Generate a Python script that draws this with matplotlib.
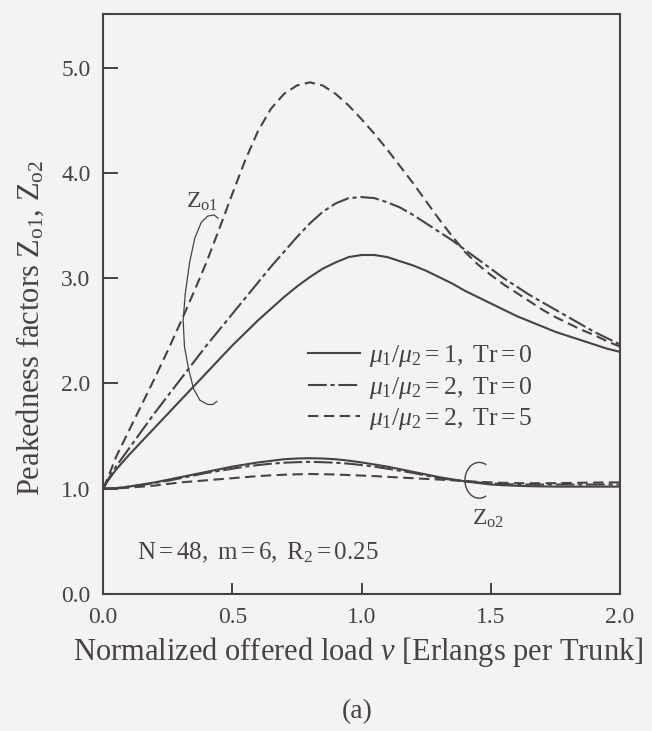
import numpy as np
import matplotlib
matplotlib.use('Agg')
import matplotlib.pyplot as plt

plt.rcParams['font.family'] = ['Liberation Serif', 'DejaVu Serif']
plt.rcParams['mathtext.fontset'] = 'custom'
plt.rcParams['mathtext.rm'] = 'Liberation Serif'
plt.rcParams['mathtext.it'] = 'Liberation Serif:italic'

# normalized offered load (Erlangs per trunk)
load = [0.00, 0.02, 0.05, 0.10, 0.15, 0.20, 0.25, 0.30, 0.35, 0.40, 0.45, 0.50,
        0.55, 0.60, 0.65, 0.70, 0.75, 0.80, 0.85, 0.90, 0.95, 1.00, 1.05, 1.10,
        1.15, 1.20, 1.25, 1.30, 1.35, 1.40, 1.45, 1.50, 1.55, 1.60, 1.65, 1.70,
        1.75, 1.80, 1.85, 1.90, 1.95, 2.00]

# Z01, mu1/mu2 = 1, Tr = 0
z01_a = [1.00, 1.08, 1.18, 1.32, 1.45, 1.58, 1.71, 1.84, 1.97, 2.10, 2.23, 2.36,
         2.48, 2.60, 2.71, 2.82, 2.92, 3.01, 3.09, 3.15, 3.20, 3.22, 3.22, 3.20,
         3.16, 3.12, 3.07, 3.01, 2.95, 2.88, 2.82, 2.76, 2.70, 2.64, 2.59, 2.54,
         2.49, 2.45, 2.41, 2.37, 2.33, 2.30]
# Z01, mu1/mu2 = 2, Tr = 0
z01_b = [1.00, 1.09, 1.21, 1.38, 1.55, 1.72, 1.88, 2.04, 2.20, 2.36, 2.51, 2.66,
         2.81, 2.96, 3.11, 3.25, 3.39, 3.52, 3.63, 3.71, 3.76, 3.77, 3.76, 3.72,
         3.67, 3.60, 3.52, 3.44, 3.36, 3.27, 3.18, 3.09, 3.00, 2.92, 2.84, 2.77,
         2.70, 2.63, 2.56, 2.49, 2.43, 2.37]
# Z01, mu1/mu2 = 2, Tr = 5
z01_c = [1.00, 1.11, 1.30, 1.55, 1.80, 2.05, 2.31, 2.58, 2.86, 3.15, 3.47, 3.80,
         4.12, 4.40, 4.61, 4.75, 4.83, 4.86, 4.83, 4.75, 4.64, 4.51, 4.37, 4.22,
         4.06, 3.90, 3.73, 3.56, 3.40, 3.25, 3.13, 3.03, 2.94, 2.86, 2.78, 2.70,
         2.63, 2.57, 2.51, 2.46, 2.40, 2.35]

# Z02 curves, same three cases
z02_a = [1.00, 1.002, 1.005, 1.02, 1.04, 1.06, 1.085, 1.11, 1.135, 1.16, 1.185, 1.21,
         1.23, 1.25, 1.265, 1.28, 1.287, 1.29, 1.287, 1.28, 1.267, 1.25, 1.23, 1.21,
         1.185, 1.16, 1.135, 1.11, 1.09, 1.07, 1.055, 1.04, 1.033, 1.028, 1.024, 1.022,
         1.02, 1.02, 1.02, 1.02, 1.02, 1.02]
z02_b = [1.00, 1.002, 1.005, 1.02, 1.035, 1.055, 1.075, 1.10, 1.125, 1.15, 1.17, 1.19,
         1.21, 1.225, 1.238, 1.247, 1.252, 1.255, 1.252, 1.247, 1.238, 1.225, 1.21, 1.19,
         1.17, 1.15, 1.125, 1.10, 1.085, 1.07, 1.06, 1.05, 1.045, 1.04, 1.04, 1.04,
         1.04, 1.04, 1.04, 1.04, 1.04, 1.04]
z02_c = [1.00, 1.001, 1.003, 1.01, 1.02, 1.03, 1.045, 1.06, 1.07, 1.08, 1.09, 1.10,
         1.11, 1.12, 1.127, 1.133, 1.137, 1.14, 1.138, 1.135, 1.13, 1.125, 1.12, 1.113,
         1.106, 1.10, 1.093, 1.087, 1.08, 1.073, 1.066, 1.06, 1.056, 1.053, 1.052, 1.052,
         1.053, 1.055, 1.057, 1.058, 1.06, 1.06]

legend_labels = [r'$\mu_1/\mu_2=1,\ \mathrm{Tr}=0$',
                 r'$\mu_1/\mu_2=2,\ \mathrm{Tr}=0$',
                 r'$\mu_1/\mu_2=2,\ \mathrm{Tr}=5$']

ink = '#4a4143'
bg = '#f3f3f1'
solid = '-'
dashdot = (0, (9, 1.8, 2, 1.8))
dashed = (0, (5, 2.6))

fig = plt.figure(figsize=(6.52, 7.31), dpi=100, facecolor=bg)
ax = fig.add_axes([0.158, 0.1874, 0.793, 0.7936])
ax.set_facecolor(bg)

l1, = ax.plot(load, z01_a, color=ink, lw=1.5, ls=solid)
l2, = ax.plot(load, z01_b, color=ink, lw=1.5, ls=dashdot)
l3, = ax.plot(load, z01_c, color=ink, lw=1.5, ls=dashed)
ax.plot(load, z02_a, color=ink, lw=1.5, ls=solid)
ax.plot(load, z02_b, color=ink, lw=1.5, ls=dashdot)
ax.plot(load, z02_c, color=ink, lw=1.5, ls=dashed)

# bracket marks grouping the curves
br1 = np.array([(0.445, 3.57), (0.43, 3.60), (0.405, 3.59), (0.38, 3.53), (0.355, 3.38),
                (0.335, 3.15), (0.318, 2.85), (0.31, 2.60), (0.315, 2.35), (0.33, 2.15),
                (0.35, 1.95), (0.375, 1.84), (0.405, 1.80), (0.425, 1.80), (0.44, 1.83)])
ax.plot(br1[:, 0], br1[:, 1], color=ink, lw=0.9)
t = np.linspace(0.35 * np.pi, 1.65 * np.pi, 30)
ax.plot(1.455 + 0.055 * np.cos(t), 1.08 + 0.17 * np.sin(t), color=ink, lw=1.0)

ax.text(0.385, 3.72, r'$\mathrm{Z_{o1}}$', fontsize=17, color=ink, ha='center', va='center')
ax.text(1.49, 0.71, r'$\mathrm{Z_{o2}}$', fontsize=17, color=ink, ha='center', va='center')
ax.text(0.13, 0.33, r'$\mathrm{N}=48,\ \mathrm{m}=6,\ \mathrm{R_2}=0.25$', fontsize=18,
        color=ink, ha='left', va='baseline')

leg = ax.legend([l1, l2, l3], legend_labels, loc='upper left',
                bbox_to_anchor=(0.397, 0.432), frameon=False, fontsize=18.5,
                handlelength=2.0, handletextpad=0.35, labelspacing=0.2,
                borderaxespad=0, borderpad=0)
for txt in leg.get_texts():
    txt.set_color(ink)

ax.set_xlim(0, 2.0)
ax.set_ylim(0, 5.51)
ax.set_xticks([0.0, 0.5, 1.0, 1.5, 2.0])
ax.set_xticklabels(['0.0', '0.5', '1.0', '1.5', '2.0'])
ax.set_yticks([0.0, 1.0, 2.0, 3.0, 4.0, 5.0])
ax.set_yticklabels(['0.0', '1.0', '2.0', '3.0', '4.0', '5.0'])
ax.tick_params(axis='y', direction='in', length=11, width=1.4, colors=ink,
               labelsize=17, pad=9)
ax.tick_params(axis='x', direction='in', length=8, width=1.4, colors=ink,
               labelsize=17, pad=9)
for sp in ax.spines.values():
    sp.set_color(ink)
    sp.set_linewidth(1.5)

fig.text(0.046, 0.551, r'Peakedness factors $\mathrm{Z_{o1}}$, $\mathrm{Z_{o2}}$',
         fontsize=22, color=ink, rotation=90, ha='center', va='center')
fig.text(0.549, 0.108, r'Normalized offered load $\nu$ [Erlangs per Trunk]',
         fontsize=22, color=ink, ha='center', va='center')
fig.text(0.548, 0.027, '(a)', fontsize=20, color=ink, ha='center', va='center')

fig.savefig('out.png', dpi=100, facecolor=bg)
